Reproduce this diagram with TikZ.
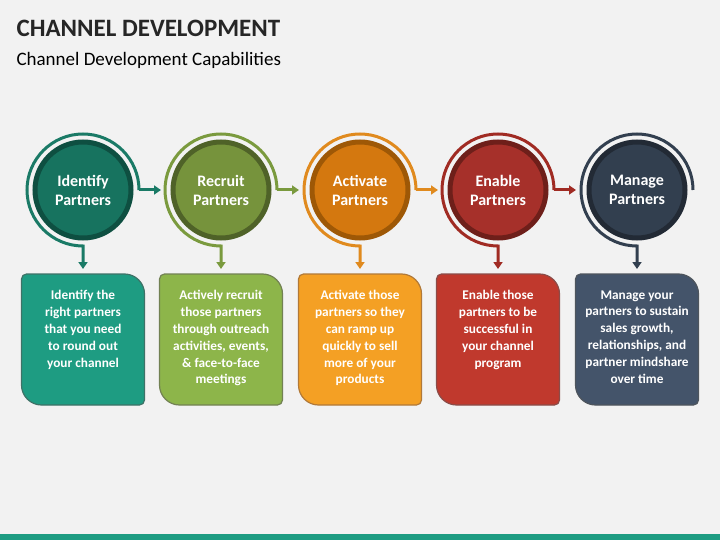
\documentclass[tikz,border=0pt]{standalone}
\usepackage{fontspec}
\setmainfont{Carlito}
\usetikzlibrary{arrows.meta}

\definecolor{bgc}{HTML}{F2F2F2}
% stage colours: box, circle, ring, arc
\definecolor{boxA}{HTML}{1E9C82}\definecolor{cirA}{HTML}{17735F}\definecolor{rngA}{HTML}{0E4F41}\definecolor{arcA}{HTML}{1A7A66}
\definecolor{boxB}{HTML}{8DB54A}\definecolor{cirB}{HTML}{76933C}\definecolor{rngB}{HTML}{4F6228}\definecolor{arcB}{HTML}{7A9A3E}
\definecolor{boxC}{HTML}{F4A024}\definecolor{cirC}{HTML}{D4780F}\definecolor{rngC}{HTML}{9E5806}\definecolor{arcC}{HTML}{E08A1E}
\definecolor{boxD}{HTML}{C0392D}\definecolor{cirD}{HTML}{A6302A}\definecolor{rngD}{HTML}{6E1F1A}\definecolor{arcD}{HTML}{A02B23}
\definecolor{boxE}{HTML}{44546A}\definecolor{cirE}{HTML}{323F4F}\definecolor{rngE}{HTML}{222A35}\definecolor{arcE}{HTML}{323F4F}

\tikzset{
  stagecircle/.style={circle, minimum size=96pt, line width=5pt, text=white,
    font=\fontsize{16}{19}\selectfont\bfseries, align=center},
  stagetext/.style={text=white, font=\fontsize{13.3}{16.8}\selectfont\bfseries, align=center, anchor=north},
  stagearc/.style={line width=3pt, -{Triangle[length=7pt,width=9pt]}},
}

\begin{document}
\begin{tikzpicture}[x=1pt,y=-1pt]
\fill[bgc] (0,0) rectangle (720,540);
\useasboundingbox (0,0) rectangle (720,540);
\fill[boxA] (0,534) rectangle (720,540);

\node[anchor=west, font=\fontsize{25}{28}\selectfont\bfseries, text=black!85] (title) at (13,28) {CHANNEL DEVELOPMENT};
\node[anchor=west, font=\fontsize{19}{22}\selectfont, text=black] (subtitle) at (13,60) {Channel Development Capabilities};

\foreach \i/\cx/\s/\head/\body in {
  1/83/A/{Identify\\Partners}/{Identify the\\right partners\\that you need\\to round out\\your channel},
  2/221/B/{Recruit\\Partners}/{Actively recruit\\those partners\\through outreach\\activities, events,\\\& face-to-face\\meetings},
  3/360/C/{Activate\\Partners}/{Activate those\\partners so they\\can ramp up\\quickly to sell\\more of your\\products},
  4/498/D/{Enable\\Partners}/{Enable those\\partners to be\\successful in\\your channel\\program},
  5/637/E/{Manage\\Partners}/{Manage your\\partners to sustain\\sales growth,\\relationships, and\\partner mindshare\\over time}}{
  % box
  \draw[fill=box\s, draw=rng\s!80, line width=1.2pt, rounded corners=5pt]
    (\cx-61.5,340) -- (\cx-61.5,274) [rounded corners=20pt]-- (\cx+61.5,274)
    [rounded corners=5pt]-- (\cx+61.5,405) [rounded corners=20pt]-- (\cx-61.5,405) [rounded corners=5pt]-- cycle;
  \node[stagetext] (b\i) at (\cx,287) {\body};
  \coordinate (t\i) at (\cx,269);
  % circle with arc
  \node[stagecircle, fill=cir\s, draw=rng\s] (c\i) at (\cx,190) {\head};
  \coordinate (r\i) at (\cx+56,190);
  \coordinate (a\i) at (\cx+78,190);
  \draw[stagearc, draw=arc\s] (r\i) arc[start angle=0, end angle=-270, radius=56] -- (t\i);
  \ifnum\i<5 \draw[stagearc, draw=arc\s] (r\i) -- (a\i); \fi
}
\end{tikzpicture}
\end{document}
